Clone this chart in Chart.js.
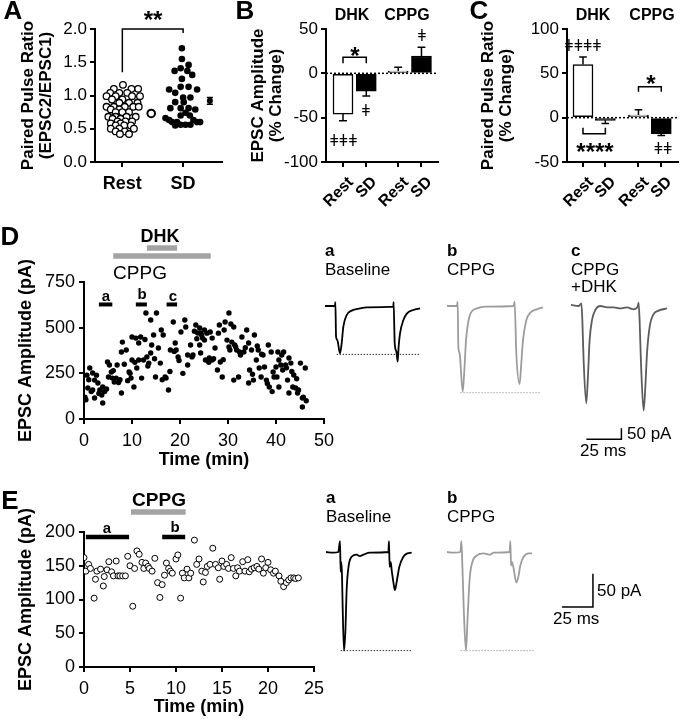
<!DOCTYPE html>
<html>
<head>
<meta charset="utf-8">
<script src="https://cdn.jsdelivr.net/npm/chart.js@4.4.1/dist/chart.umd.min.js"></script>
<style>
  body { margin: 0; background: #fff; }
  #fig { position: relative; width: 681px; height: 719px; overflow: hidden; font-family: "Liberation Sans", Arial, sans-serif; color: #000; }
  canvas { position: absolute; }
  .t { position: absolute; white-space: nowrap; line-height: 1; transform: translate(-50%, -50%); }
  .t.l { transform: translate(0, -50%); }
</style>
</head>
<body>
<div id="fig"></div>
<script>
// ---------- data ----------
// A: paired pulse ratio, individual cells (x = jittered column position)
const catA = ["Rest", "SD"];
const restX = [1.01,0.86,1.15,1.26,0.80,0.95,1.08,0.74,0.89,1.16,1.29,0.83,1.00,0.95,1.11,1.25,0.74,0.86,1.04,1.18,1.27,0.81,0.95,0.89,1.00,1.11,0.77,0.89,1.07,1.22,0.84,0.97,0.92,1.05,1.16,0.81,0.97,0.89,1.03,1.14,0.81,0.95,1.19,0.89,1.04,0.96,1.11];
const restY = [1.16,1.10,1.10,1.10,1.04,1.04,1.04,0.99,0.99,0.99,0.99,0.94,0.94,0.89,0.89,0.89,0.83,0.83,0.83,0.83,0.83,0.79,0.79,0.75,0.75,0.75,0.68,0.68,0.68,0.68,0.65,0.65,0.61,0.61,0.61,0.58,0.58,0.55,0.55,0.55,0.50,0.50,0.50,0.46,0.46,0.42,0.42];
const sdX = [1.98,1.98,2.09,1.96,1.86,2.07,2.15,1.98,1.96,2.09,1.77,2.23,1.87,2.00,2.12,1.87,2.01,1.79,1.96,2.09,2.20,2.04,1.96,2.11,1.71,1.77,2.17,1.82,1.90,2.23,2.28,1.96,2.04,2.12,1.87];
const sdY = [1.71,1.55,1.46,1.41,1.37,1.37,1.31,1.25,1.13,1.13,1.09,1.09,1.04,0.97,0.97,0.90,0.90,0.81,0.81,0.81,0.79,0.74,0.70,0.70,0.66,0.63,0.63,0.60,0.60,0.60,0.60,0.56,0.56,0.56,0.55];
const meanX = [1.475, 2.44];
const meanY = [0.73, 0.92];
const meanSem = [0.02, 0.05];
const bracketA = [1.35, 2.0, 1.94];

// B / C: % change bars (DHK Rest, DHK SD, CPPG Rest, CPPG SD)
const barCats = ["Rest", "SD", "Rest", "SD"];
const barFill = ["#fff", "#000", "#fff", "#000"];
const bX = [1, 2, 3.37, 4.37];
const bMean = [-46, -20, 2.5, 19.5];
const bSem = [7.5, 5.5, 4.5, 10];
const cX = [1, 2, 3.48, 4.5];
const cMean = [60, -3, 3, -18];
const cSem = [8.5, 3.5, 6, 2];

// D: EPSC amplitude time course (min, pA)
const dTime = [0.2,0.4,0.6,0.8,1.0,1.2,1.5,1.8,1.8,2.2,2.2,2.6,2.9,3.1,3.3,3.7,3.9,3.9,4.3,4.7,4.9,5.1,5.3,5.7,5.9,6.1,6.3,6.7,6.9,7.2,7.5,7.8,7.8,8.0,8.4,8.8,9.1,9.4,9.6,9.8,10.0,10.0,10.4,10.6,10.8,11.0,11.4,11.4,11.8,12.0,12.4,12.7,12.9,13.1,13.3,13.5,13.9,13.9,14.1,14.5,14.7,14.9,15.1,15.5,15.9,16.1,16.3,16.5,16.9,17.1,17.6,17.9,18.0,18.6,18.8,19.0,19.2,19.6,19.8,20.2,20.6,21.0,21.2,21.6,21.6,22.2,22.5,22.7,23.0,23.3,23.5,23.7,24.1,24.1,24.3,24.3,24.5,24.7,25.1,25.1,25.3,25.6,26.0,26.1,26.3,26.7,26.7,27.0,27.3,27.8,28.0,28.2,28.4,28.8,29.0,29.2,29.4,29.8,30.2,30.2,30.4,30.6,30.8,31.2,31.2,31.4,31.6,31.8,32.2,32.4,32.6,32.9,33.3,33.6,33.9,34.3,34.3,34.5,34.9,35.1,35.3,35.5,35.9,36.1,36.3,36.5,36.9,37.0,37.3,37.6,38.0,38.2,38.4,38.6,39.0,39.2,39.4,39.6,40.0,40.2,40.4,40.6,40.6,41.0,41.2,41.4,41.6,42.0,42.2,42.4,42.7,42.7,43.1,43.3,43.5,43.7,44.1,44.3,44.5,44.7,45.1,45.5,45.5,45.7,46.1,46.3];
const dAmp = [120,105,240,170,215,279,150,252,159,213,115,240,197,140,159,131,175,88,150,164,312,230,296,257,224,265,202,224,296,200,215,142,367,421,300,378,210,257,250,224,323,449,175,310,443,279,323,416,449,224,323,435,580,340,290,306,542,361,405,460,330,230,580,389,306,487,215,460,230,224,159,260,378,531,370,416,378,340,320,476,250,542,504,350,296,405,340,350,480,515,440,471,405,498,361,471,460,443,432,487,323,470,310,334,476,323,443,330,389,268,470,515,312,230,325,487,531,432,580,394,378,520,421,504,213,405,395,378,230,367,350,449,367,390,487,416,197,268,378,245,213,460,323,400,378,279,230,355,350,285,213,195,405,175,367,150,257,230,285,230,367,323,175,296,350,268,367,296,280,213,334,142,306,260,175,241,170,220,142,159,306,115,66,120,279,100];
const dWin = { a: [3.1, 5.9], b: [10.8, 13.1], c: [17.2, 19.4] };
const dWinLevel = 627;
const dDhk = [13.1, 19.4];
const dCppg = [6.1, 26.4];
const dDrugLevel = [936, 892];

// E: EPSC amplitude time course, CPPG only (min, pA)
const eTime = [0,0.2,0.5,0.7,1.1,1.25,1.4,1.8,2.1,2.2,2.5,2.7,3.0,3.2,3.5,3.7,3.9,4.2,4.5,4.75,5.0,5.3,5.5,5.75,6.0,6.3,6.5,6.7,6.96,7.1,7.4,7.7,8.0,8.25,8.5,8.75,8.96,9.2,9.4,9.6,10.0,10.2,10.5,10.7,10.9,11.2,11.4,11.6,12.0,12.25,12.5,12.8,12.96,13.2,13.4,13.7,14.0,14.3,14.6,14.75,15.0,15.2,15.5,15.7,16.0,16.25,16.5,16.7,16.9,17.25,17.5,17.8,17.96,18.2,18.5,18.8,19.0,19.3,19.5,19.75,20.0,20.3,20.6,20.8,21.2,21.4,21.7,22.0,22.25,22.5,22.8,23.0,23.3];
const eAmp = [162,142,152,146,102,130,142,145,120,134,144,156,141,135,157,135,135,135,135,164,150,90,146,172,167,155,146,154,149,146,142,161,125,103,122,136,154,146,142,139,160,166,102,139,132,145,132,139,188,152,160,142,126,140,149,152,176,152,147,130,157,149,152,146,162,146,135,147,142,156,142,159,141,145,147,149,145,160,139,147,155,144,139,142,135,127,119,125,129,132,132,131,132];
const eWin = { a: [0.2, 4.9], b: [8.5, 11.0] };
const eWinLevel = 192.6;
const eCppg = [5.1, 11.05];
const eDrugLevel = 229.6;

// example traces (ms, pA)
const dTrA_ms = [0,7.1,7.4,7.9,8.8,10.7,11.9,13.1,15.5,19.0,25,29.8,48.8,49.0,49.8,51,51.9,52.6,53.6,56,58.3,63.1,67.9];
const dTrA_pA = [0,0,18,-139,-155,-215,-170,-94,-41,-21,-11,-6,-3,18,-170,-208,-253,-185,-124,-64,-36,-18,-11];
const dTrA_peak = [8.3, 67.4, -220];
const dTrB_ms = [0,7.1,7.6,8.1,9.0,11.2,12.4,13.6,15,17.1,21.4,27.4,47.6,48.3,49.5,51.9,52.9,54.3,56.7,59.5,64.3,68.6];
const dTrB_pA = [0,0,20,-185,-215,-389,-291,-155,-79,-30,-11,-3,0,20,-215,-355,-276,-155,-64,-30,-15,-6];
const dTrB_peak = [9.5, 67.1, -394];
const dTrC_ms = [0,5.5,7.4,8.1,9,10.9,12.1,13.3,15,17.4,21,25.7,30.5,35.2,40,44.8,47.6,48.3,49,50,51.9,53.1,54.3,56.2,58.6,62.6,68.6];
const dTrC_pA = [5,0,12,-64,-245,-442,-321,-155,-64,-18,0,-6,-6,-11,-6,-15,-3,15,-64,-261,-476,-367,-215,-94,-41,-21,-11];
const dScale_ms = [11, 36, 36];
const dScale_pA = [-606, -606, -556];

const eTrA_ms = [0,5.9,9.9,11.3,11.8,12.4,12.9,13.4,14.5,15.6,16.7,18.3,20.7,24.7,27.4,30.1,35.5,50.3,50.8,51.3,52.2,53,54.3,55.6,57,59.1,62.4,65.6,69.1];
const eTrA_pA = [0,-1,0,16,-29,-15,-34,-78,-145,-118,-54,-20,-7,-4,-6,-4,-1,0,16,-22,-15,-27,-44,-56,-44,-22,-7,-2,-1];
const eTrA_peak = [11.8, 69.1, -145];
const eTrB_ms = [0,5.4,10.8,11.6,12.4,13.4,15.3,16.7,18.3,20.4,24.2,29.6,34.9,37.6,50.5,51.1,51.6,52.4,53.8,55.9,57.5,59.1,61.8,65.9,68.5];
const eTrB_pA = [0,-1,0,16,-20,-78,-145,-93,-39,-15,-5,-2,-4,-1,0,16,-20,-15,-25,-45,-37,-20,-7,-2,-2];
const eTrB_peak = [10.8, 69.9, -145];
const eScale_ms = [92.7, 117.7, 117.7];
const eScale_pA = [-80.9, -80.9, -31.9];

// ---------- helpers ----------
Chart.defaults.font.family = '"Liberation Sans", Arial, sans-serif';
Chart.defaults.color = '#000';
const fig = document.getElementById('fig');

function txt(s, x, y, size, bold, left) {
  const d = document.createElement('div');
  d.className = left ? 't l' : 't';
  d.textContent = s;
  d.style.left = x + 'px';
  d.style.top = y + 'px';
  d.style.fontSize = size + 'px';
  if (bold) d.style.fontWeight = 'bold';
  fig.appendChild(d);
}

function makeCanvas(x, y, w, h) {
  const c = document.createElement('canvas');
  c.width = w; c.height = h;
  c.style.left = x + 'px'; c.style.top = y + 'px';
  c.style.width = w + 'px'; c.style.height = h + 'px';
  fig.appendChild(c);
  return c;
}

function axis(o) {
  const a = {
    type: 'linear', min: o.min, max: o.max, offset: false,
    grid: { drawOnChartArea: false, color: '#000', lineWidth: 2, tickLength: 5, offset: false },
    border: { display: true, color: '#000', width: 2 },
    ticks: { color: '#000', font: { size: o.size || 17, weight: o.bold ? 'bold' : 'normal' },
             padding: o.pad == null ? 3 : o.pad, autoSkip: false, labelOffset: o.loff || 0,
             minRotation: o.rot || 0, maxRotation: o.rot || 0 }
  };
  if (o.step) a.ticks.stepSize = o.step;
  if (o.fmt) a.ticks.callback = o.fmt;
  if (o.at) a.afterBuildTicks = s => { s.ticks = o.at.map(v => ({ value: v })); };
  if (o.title) a.title = { display: true, text: o.title, color: '#000',
    font: { size: o.tsize || 17, weight: 'bold', lineHeight: o.tlh || 1.2 }, padding: o.tpad || 0 };
  if (o.w) a.afterFit = s => { s.width = o.w; };
  if (o.h) a.afterFit = s => { s.height = o.h; };
  return a;
}

function baseOpts(pad, scales) {
  return { responsive: false, animation: false, devicePixelRatio: 1, events: [],
    layout: { padding: pad },
    plugins: { legend: { display: false }, tooltip: { enabled: false } }, scales };
}

function seg(points, width, color, extra) {
  return Object.assign({ type: 'line', data: points, borderColor: color || '#000', borderWidth: width || 1.5,
    pointRadius: 0, fill: false, tension: 0, spanGaps: false }, extra || {});
}

function pts(xs, ys) { return xs.map((x, i) => ({ x, y: ys[i] })); }

// error bars going away from zero, with caps
function errBars(xs, means, sems, cap) {
  const out = [];
  xs.forEach((x, i) => {
    const end = means[i] + (means[i] < 0 ? -sems[i] : sems[i]);
    out.push({ x, y: means[i] }, { x, y: end }, { x, y: null },
             { x: x - cap, y: end }, { x: x + cap, y: end }, { x, y: null });
  });
  return out;
}

function bracket(x1, x2, low, high) {
  return [{ x: x1, y: low }, { x: x1, y: high }, { x: x2, y: high }, { x: x2, y: low }];
}

// ---------- A ----------
new Chart(makeCanvas(0, 0, 232, 205), {
  type: 'scatter',
  data: { datasets: [
    { data: pts(restX, restY), pointRadius: 3.3, pointBorderWidth: 1.3, pointBackgroundColor: '#fff', pointBorderColor: '#000' },
    { data: pts(sdX, sdY), pointRadius: 3.3, pointBorderWidth: 0, pointBackgroundColor: '#000' },
    seg([{ x: meanX[1] - 0.05, y: meanY[1] + meanSem[1] }, { x: meanX[1] + 0.05, y: meanY[1] + meanSem[1] }, { x: meanX[1], y: null },
         { x: meanX[1], y: meanY[1] + meanSem[1] }, { x: meanX[1], y: meanY[1] - meanSem[1] }, { x: meanX[1], y: null },
         { x: meanX[1] - 0.05, y: meanY[1] - meanSem[1] }, { x: meanX[1] + 0.05, y: meanY[1] - meanSem[1] }], 1.5),
    { data: [{ x: meanX[0], y: meanY[0] }], pointRadius: 3.8, pointBorderWidth: 2, pointBackgroundColor: '#fff', pointBorderColor: '#000' },
    { data: [{ x: meanX[1], y: meanY[1] }], pointRadius: 3, pointBorderWidth: 0, pointBackgroundColor: '#000' },
    seg([{ x: 1, y: bracketA[0] }, { x: 1, y: bracketA[1] }, { x: 2, y: bracketA[1] }, { x: 2, y: bracketA[2] }], 1.5, '#000', { clip: false })
  ] },
  options: baseOpts({ top: 29, right: 10, left: 0, bottom: 0 }, {
    x: axis({ min: 0.55, max: 2.64, at: [1, 2], fmt: (v, i) => catA[i], size: 18, bold: true, pad: 6, h: 43 }),
    y: axis({ min: 0, max: 2, step: 0.5, fmt: v => v.toFixed(1), pad: 3, w: 95,
              title: ['Paired Pulse Ratio', '(EPSC2/EPSC1)'], tlh: 1.06, tpad: { top: 19, bottom: 0 } })
  })
});

// ---------- B and C ----------
function barPanel(left, width, yW, padR, xs, means, sems, xmin, xmax, ymin, ymax, title, extra) {
  new Chart(makeCanvas(left, 0, width, 214), {
    type: 'bar',
    data: { datasets: [
      { type: 'bar', data: pts(xs, means), backgroundColor: barFill, borderColor: '#000', borderWidth: 1.5,
        barThickness: 20, borderSkipped: false, order: 2 },
      seg(errBars(xs, means, sems, 0.17), 1.5, '#000', { order: 1 }),
      seg([{ x: xmin, y: 0 }, { x: xmax, y: 0 }], 1.5, '#000', { borderDash: [2, 2], order: 3 })
    ].concat(extra.map(b => seg(b, 1.5, '#000', { clip: false, order: 0 }))) },
    options: baseOpts({ top: 29, right: padR, left: 0, bottom: 0 }, {
      x: axis({ min: xmin, max: xmax, at: xs, fmt: (v, i) => barCats[i], size: 16, bold: true, rot: 45, pad: 6, loff: 8, h: 52 }),
      y: axis({ min: ymin, max: ymax, step: 50, pad: 3, w: yW,
                title: title, tlh: 1.06, tpad: { top: 17, bottom: 0 } })
    })
  });
}

barPanel(232, 212, 94, 6, bX, bMean, bSem, 0.27, 5.08, -100, 50, ['EPSC Amplitude', '(% Change)'],
  [bracket(bX[0], bX[1], 11.3, 18)]);
barPanel(462, 219, 105, 1, cX, cMean, cSem, 0.285, 5.24, -50, 100, ['Paired Pulse Ratio', '(% Change)'],
  [bracket(cX[0], cX[1], -11.3, -18), bracket(cX[2], cX[3], 29.3, 35)]);

// ---------- D ----------
new Chart(makeCanvas(0, 228, 340, 252), {
  type: 'scatter',
  data: { datasets: [
    { data: pts(dTime, dAmp), pointRadius: 2.7, pointBorderWidth: 0, pointBackgroundColor: '#000' },
    seg([{ x: dWin.a[0], y: dWinLevel }, { x: dWin.a[1], y: dWinLevel }], 4),
    seg([{ x: dWin.b[0], y: dWinLevel }, { x: dWin.b[1], y: dWinLevel }], 4),
    seg([{ x: dWin.c[0], y: dWinLevel }, { x: dWin.c[1], y: dWinLevel }], 4),
    seg([{ x: dDhk[0], y: dDrugLevel[0] }, { x: dDhk[1], y: dDrugLevel[0] }], 5.5, '#a3a3a3', { clip: false }),
    seg([{ x: dCppg[0], y: dDrugLevel[1] }, { x: dCppg[1], y: dDrugLevel[1] }], 5.5, '#a3a3a3', { clip: false })
  ] },
  options: baseOpts({ top: 54, right: 12, left: 0, bottom: 0 }, {
    x: axis({ min: 0, max: 50, step: 10, size: 18, pad: 6, h: 61,
              title: 'Time (min)', tsize: 18, tpad: { top: 0, bottom: 9 } }),
    y: axis({ min: 0, max: 750, step: 250, size: 18, pad: 4, w: 84,
              title: 'EPSC Amplitude (pA)', tsize: 18, tpad: { top: 15, bottom: 0 } })
  })
});

// ---------- E ----------
new Chart(makeCanvas(0, 495, 330, 224), {
  type: 'scatter',
  data: { datasets: [
    { data: pts(eTime, eAmp), pointRadius: 3, pointBorderWidth: 1, pointBackgroundColor: '#fff', pointBorderColor: '#000' },
    seg([{ x: eWin.a[0], y: eWinLevel }, { x: eWin.a[1], y: eWinLevel }], 4.5),
    seg([{ x: eWin.b[0], y: eWinLevel }, { x: eWin.b[1], y: eWinLevel }], 4.5),
    seg([{ x: eCppg[0], y: eDrugLevel }, { x: eCppg[1], y: eDrugLevel }], 5.5, '#a3a3a3', { clip: false })
  ] },
  options: baseOpts({ top: 37, right: 13, left: 0, bottom: 0 }, {
    x: axis({ min: 0, max: 25, step: 5, size: 18, pad: 6, h: 52,
              title: 'Time (min)', tsize: 18, tpad: { top: 0, bottom: 1 } }),
    y: axis({ min: 0, max: 200, step: 50, size: 18, pad: 4, w: 84,
              title: 'EPSC Amplitude (pA)', tsize: 18, tpad: { top: 15, bottom: 0 } })
  })
});

// ---------- example traces ----------
function traceChart(originX, baseY, w, h, pxMs, pxPa, sets) {
  const left = originX - 8, top = baseY - 20;
  new Chart(makeCanvas(left, top, w, h), {
    type: 'line',
    data: { datasets: sets },
    options: baseOpts(0, {
      x: { type: 'linear', display: false, min: -8 / pxMs, max: (w - 8) / pxMs },
      y: { type: 'linear', display: false, min: -(h - 20) / pxPa, max: 20 / pxPa }
    })
  });
}
function trace(ms, pA, color) {
  return seg(pts(ms, pA), 1.8, color, { cubicInterpolationMode: 'monotone', clip: false });
}
function peakLine(p, color) {
  return seg([{ x: p[0], y: p[2] }, { x: p[1], y: p[2] }], 1, color, { borderDash: [1.5, 1.5] });
}

traceChart(325, 306, 115, 165, 1.4, 0.22, [trace(dTrA_ms, dTrA_pA, '#000'), peakLine(dTrA_peak, '#333')]);
traceChart(446.7, 306, 115, 165, 1.4, 0.22, [trace(dTrB_ms, dTrB_pA, '#9c9c9c'), peakLine(dTrB_peak, '#aaa')]);
traceChart(570.7, 306, 110, 165, 1.4, 0.22, [trace(dTrC_ms, dTrC_pA, '#5c5c5c'), seg(pts(dScale_ms, dScale_pA), 1.5)]);
traceChart(326, 551.7, 100, 130, 1.24, 0.68, [trace(eTrA_ms, eTrA_pA, '#000'), peakLine(eTrA_peak, '#333')]);
traceChart(446.7, 551.7, 160, 130, 1.24, 0.68, [trace(eTrB_ms, eTrB_pA, '#9c9c9c'), peakLine(eTrB_peak, '#aaa'), seg(pts(eScale_ms, eScale_pA), 1.5)]);

// ---------- text ----------
txt('A', 13, 10, 26, true);
txt('B', 245, 10, 26, true);
txt('C', 479, 10, 26, true);
txt('D', 10, 236, 26, true);
txt('E', 10, 500, 26, true);

txt('**', 153, 20, 24, true);

txt('DHK', 352, 15, 16, true);
txt('CPPG', 407, 15, 16, true);
txt('*', 355, 56, 24, true);
txt('ǂǂǂ', 343.5, 141, 16);
txt('ǂ', 366, 111, 16);
txt('ǂ', 422, 36, 16);

txt('DHK', 593, 15, 16, true);
txt('CPPG', 652, 15, 16, true);
txt('ǂǂǂǂ', 583, 46, 16);
txt('****', 595, 152, 24, true);
txt('*', 651, 84, 24, true);
txt('ǂǂ', 663, 149, 16);

txt('DHK', 160, 236, 18, true);
txt('CPPG', 140, 272, 19);
txt('a', 106, 295, 15, true);
txt('b', 142, 293, 15, true);
txt('c', 173, 295, 15, true);

txt('a', 325, 250, 17, true, true);
txt('Baseline', 325, 269, 17, false, true);
txt('b', 447, 250, 17, true, true);
txt('CPPG', 447, 269, 17, false, true);
txt('c', 571, 250, 17, true, true);
txt('CPPG', 571, 269, 17, false, true);
txt('+DHK', 571, 286, 17, false, true);
txt('50 pA', 627, 433, 17, false, true);
txt('25 ms', 580, 450, 17, false, true);

txt('CPPG', 159, 499, 19, true);
txt('a', 107, 527, 15, true);
txt('b', 175, 526, 15, true);

txt('a', 326, 497, 17, true, true);
txt('Baseline', 326, 516, 17, false, true);
txt('b', 447, 497, 17, true, true);
txt('CPPG', 447, 516, 17, false, true);
txt('50 pA', 597, 590, 17, false, true);
txt('25 ms', 553, 618, 17, false, true);
</script>
</body>
</html>
